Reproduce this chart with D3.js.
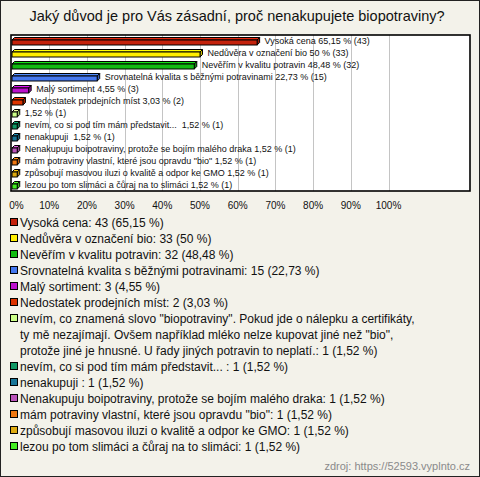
<!DOCTYPE html>
<html><head><meta charset="utf-8">
<script src="https://cdn.jsdelivr.net/npm/d3@7"></script>
<style>body{margin:0;background:#fff}svg{display:block}text{font-family:Arial,"Liberation Sans",sans-serif}</style>
</head><body><svg id="c" width="480" height="477"></svg>
<script>
const title = "Jaký důvod je pro Vás zásadní, proč nenakupujete biopotraviny?";
const categories = [
  "Vysoká cena",
  "Nedůvěra v označení bio",
  "Nevěřím v kvalitu potravin",
  "Srovnatelná kvalita s běžnými potravinami",
  "Malý sortiment",
  "Nedostatek prodejních míst",
  "nevím, co znamená slovo \"biopotraviny\". Pokud jde o nálepku a certifikáty,\nty mě nezajímají. Ovšem například mléko nelze kupovat jiné než \"bio\",\nprotože jiné je hnusné. U řady jiných potravin to neplatí.",
  "nevím, co si pod tím mám představit... ",
  "nenakupuji ",
  "Nenakupuju boipotraviny, protože se bojím malého draka",
  "mám potraviny vlastní, které jsou opravdu \"bio\"",
  "způsobují masovou iluzi o kvalitě a odpor ke GMO",
  "lezou po tom slimáci a čůraj na to slimáci"
];
const barNames = [
  "Vysoká cena", "Nedůvěra v označení bio", "Nevěřím v kvalitu potravin",
  "Srovnatelná kvalita s běžnými potravinami", "Malý sortiment", "Nedostatek prodejních míst",
  "", "nevím, co si pod tím mám představit... ", "nenakupuji ",
  "Nenakupuju boipotraviny, protože se bojím malého draka",
  "mám potraviny vlastní, které jsou opravdu \"bio\"",
  "způsobují masovou iluzi o kvalitě a odpor ke GMO",
  "lezou po tom slimáci a čůraj na to slimáci"
];
const counts = [43, 33, 32, 15, 3, 2, 1, 1, 1, 1, 1, 1, 1];
const percents = [65.15, 50, 48.48, 22.73, 4.55, 3.03, 1.52, 1.52, 1.52, 1.52, 1.52, 1.52, 1.52];
const colors = ["#c4220c", "#ffee00", "#11bb11", "#4477ee", "#bb11cc", "#dd3300", "#ccff88",
                "#119966", "#1a7799", "#bb55bb", "#ee7711", "#ddaa11", "#44ee22"];
const ticks = [0, 10, 20, 30, 40, 50, 60, 70, 80, 90, 100];
const source = "zdroj: https://52593.vyplnto.cz";

const fmt = v => String(v).replace(".", ",");
const svg = d3.select("#c");

svg.append("rect").attr("x", 0.5).attr("y", 0.5).attr("width", 479).attr("height", 476)
  .attr("fill", "#f3f2ea").attr("stroke", "#222");

svg.append("text").attr("x", 237).attr("y", 21).attr("text-anchor", "middle")
  .attr("font-size", 14.5).attr("fill", "#111").text(title);

const plot = {l: 11, r: 470, t: 35, b: 191};
const x = d3.scaleLinear().domain([0, 100]).range([11.5, 388.5]);
const y = d3.scaleBand().domain(d3.range(categories.length)).range([plot.t, plot.b]);

svg.append("rect").attr("x", plot.l).attr("y", plot.t).attr("width", plot.r - plot.l).attr("height", plot.b - plot.t)
  .attr("fill", "#fff");

svg.append("g").selectAll("line").data(ticks.filter(t => t > 0)).join("line")
  .attr("x1", d => Math.round(x(d)) + 0.5).attr("x2", d => Math.round(x(d)) + 0.5)
  .attr("y1", plot.t).attr("y2", plot.b).attr("stroke", "#c4c4c4");

svg.append("rect").attr("x", plot.l).attr("y", plot.t).attr("width", plot.r - plot.l).attr("height", plot.b - plot.t)
  .attr("fill", "none").attr("stroke", "#000").attr("stroke-width", 1.6);

// axis labels
svg.append("g").selectAll("text").data(ticks).join("text")
  .attr("x", d => x(d) + (d === 0 ? 5 : 0)).attr("y", 209).attr("text-anchor", "middle")
  .attr("font-size", 10).attr("fill", "#111").text(d => d + "%");

// 3D bars
const dep = 2.5;
const bars = svg.append("g").selectAll("g").data(percents).join("g");
bars.each(function(v, i) {
  const g = d3.select(this);
  const x0 = x(0) + 0.5, x1 = x(v);
  const cy = y(i) + y.bandwidth() / 2 + 1;
  const top = cy - 2, bot = cy + 3;
  const c = d3.color(colors[i]);
  g.append("path").attr("d", `M${x0},${top} L${x0 + dep},${top - dep} L${x1 + dep},${top - dep} L${x1},${top} Z`)
    .attr("fill", c.brighter(0.5)).attr("stroke", "#000").attr("stroke-width", 1);
  g.append("path").attr("d", `M${x1},${top} L${x1 + dep},${top - dep} L${x1 + dep},${bot - dep} L${x1},${bot} Z`)
    .attr("fill", c.darker(0.7)).attr("stroke", "#000").attr("stroke-width", 1);
  g.append("rect").attr("x", x0).attr("y", top).attr("width", Math.max(0, x1 - x0)).attr("height", bot - top)
    .attr("fill", colors[i]).attr("stroke", "#000").attr("stroke-width", 1);
  g.append("text").attr("x", x1 + dep + 5).attr("y", cy - 1).attr("dy", "0.35em")
    .attr("font-size", 9).attr("fill", "#111").attr("xml:space", "preserve")
    .text((barNames[i] ? barNames[i] + " " : "") + fmt(v) + " % (" + counts[i] + ")");
});

// legend
let line = 0;
const lg = svg.append("g");
categories.forEach((name, i) => {
  const cy = 223 + line * 16;
  lg.append("rect").attr("x", 10.5).attr("y", cy - 4.5).attr("width", 7).attr("height", 7)
    .attr("fill", colors[i]).attr("stroke", "#000");
  const parts = name.split("\n");
  parts[parts.length - 1] += ": " + counts[i] + " (" + fmt(percents[i]) + " %)";
  const t = lg.append("text").attr("font-size", 12).attr("fill", "#111").attr("xml:space", "preserve");
  parts.forEach((p, k) => {
    t.append("tspan").attr("x", 20).attr("y", cy + 16 * k).attr("dy", "0.35em").text(p);
  });
  line += parts.length;
});

svg.append("text").attr("x", 470).attr("y", 466).attr("dy", "0.35em").attr("text-anchor", "end")
  .attr("font-size", 11).attr("fill", "#8a8a8a").text(source);
</script></body></html>
